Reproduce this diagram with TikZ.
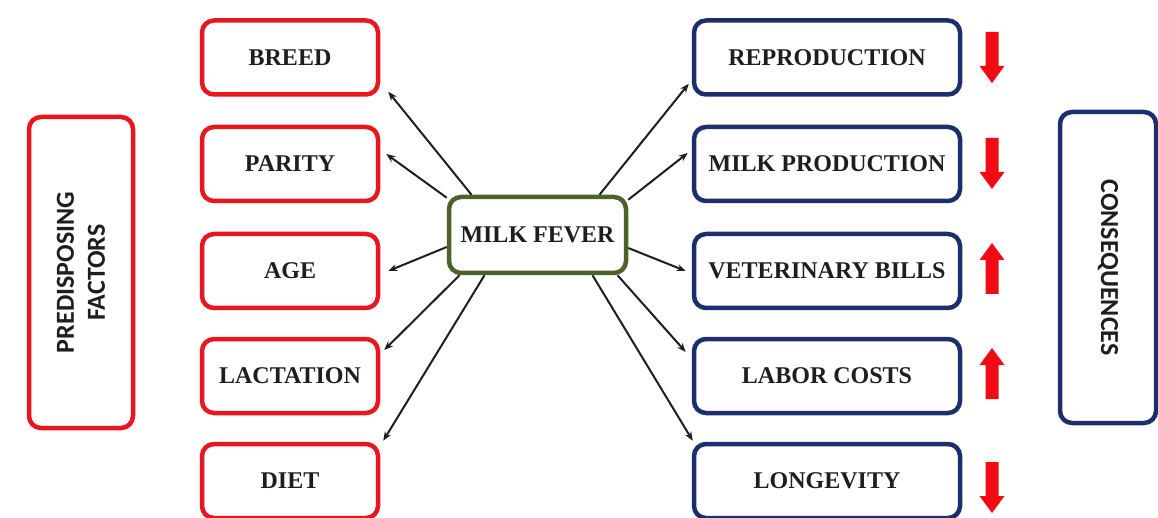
\documentclass[tikz,border=0pt]{standalone}
\usepackage{fontspec}
\setmainfont{Liberation Serif}
\newfontfamily\carl{Carlito}
\usetikzlibrary{arrows.meta,calc}
\definecolor{fred}{RGB}{232,22,30}
\definecolor{fblue}{RGB}{28,46,108}
\definecolor{fgreen}{RGB}{76,98,42}
\definecolor{ftext}{RGB}{30,30,30}
\definecolor{farr}{RGB}{240,12,18}
\begin{document}
\begin{tikzpicture}[x=1pt,y=-1pt,
  box/.style={draw, line width=4.5pt, rounded corners=12pt, fill=white, text=ftext,
    font=\fontsize{24}{28}\selectfont\bfseries, align=center, inner sep=0pt},
  leftbox/.style={box, draw=fred, minimum width=176pt, minimum height=74pt},
  rightbox/.style={box, draw=fblue, minimum width=266pt, minimum height=74pt},
  sidebox/.style={box, font=\carl\fontsize{26}{31}\selectfont\bfseries,
    minimum height=100pt, minimum width=311pt},
  conn/.style={-{Stealth[length=9pt,width=7pt]}, line width=2pt, ftext},
  downarr/.pic={\fill[farr] (-6.5,0)--(6.5,0)--(6.5,34)--(12.5,34)--(0,51)--(-12.5,34)--(-6.5,34)--cycle;},
  uparr/.pic={\fill[farr] (0,0)--(12.5,17)--(6.5,17)--(6.5,51)--(-6.5,51)--(-6.5,17)--(-12.5,17)--cycle;}
]
\useasboundingbox (0,0) rectangle (1158,518);

% side boxes
\node[sidebox, draw=fred, minimum height=104pt, rotate=90] (pf) at (81,272.5) {PREDISPOSING\\FACTORS};
\node[sidebox, draw=fblue, minimum height=96pt, rotate=-90] (cq) at (1108,267.5) {CONSEQUENCES};

% left boxes
\node[leftbox] (breed) at (290,57.5) {BREED};
\node[leftbox] (parity) at (290,164) {PARITY};
\node[leftbox] (age) at (290,271) {AGE};
\node[leftbox] (lact) at (290,376) {LACTATION};
\node[leftbox] (diet) at (290,481) {DIET};

% right boxes
\node[rightbox] (repro) at (827,57.5) {REPRODUCTION};
\node[rightbox] (milk) at (827,164) {MILK PRODUCTION};
\node[rightbox] (vet) at (827,271) {VETERINARY BILLS};
\node[rightbox] (labor) at (827,376) {LABOR COSTS};
\node[rightbox] (longev) at (827,481) {LONGEVITY};

% centre
\node[box, draw=fgreen, minimum width=177pt, minimum height=76pt] (mf) at (537.5,235) {MILK FEVER};

% connectors
\draw[conn] ([xshift=-66pt]mf.north) -- ([xshift=8pt,yshift=5pt]breed.south east);
\draw[conn] ([yshift=-3pt]mf.north west) -- ([xshift=6pt,yshift=10pt]parity.east);
\draw[conn] ([yshift=-12pt]mf.west) -- ([xshift=8pt]age.east);
\draw[conn] ([xshift=-78pt]mf.south) -- ([xshift=4pt,yshift=26pt]lact.east);
\draw[conn] ([xshift=-53pt]mf.south) -- ([xshift=3pt,yshift=1pt]diet.north east);

\draw[conn] ([xshift=62pt]mf.north) -- ([xshift=-3pt,yshift=13pt]repro.south west);
\draw[conn] ([yshift=-5pt]mf.north east) -- ([xshift=-4pt,yshift=11pt]milk.west);
\draw[conn] ([yshift=-13pt]mf.east) -- ([xshift=-6pt]vet.west);
\draw[conn] ([xshift=80pt]mf.south) -- ([xshift=-6pt,yshift=24pt]labor.west);
\draw[conn] ([xshift=55pt]mf.south) -- ([xshift=1pt,yshift=1pt]longev.north west);

% red trend arrows
\pic at (992,32) {downarr};
\pic at (992,138) {downarr};
\pic at (992,243) {uparr};
\pic at (992,348) {uparr};
\pic at (992,462) {downarr};
\end{tikzpicture}
\end{document}
